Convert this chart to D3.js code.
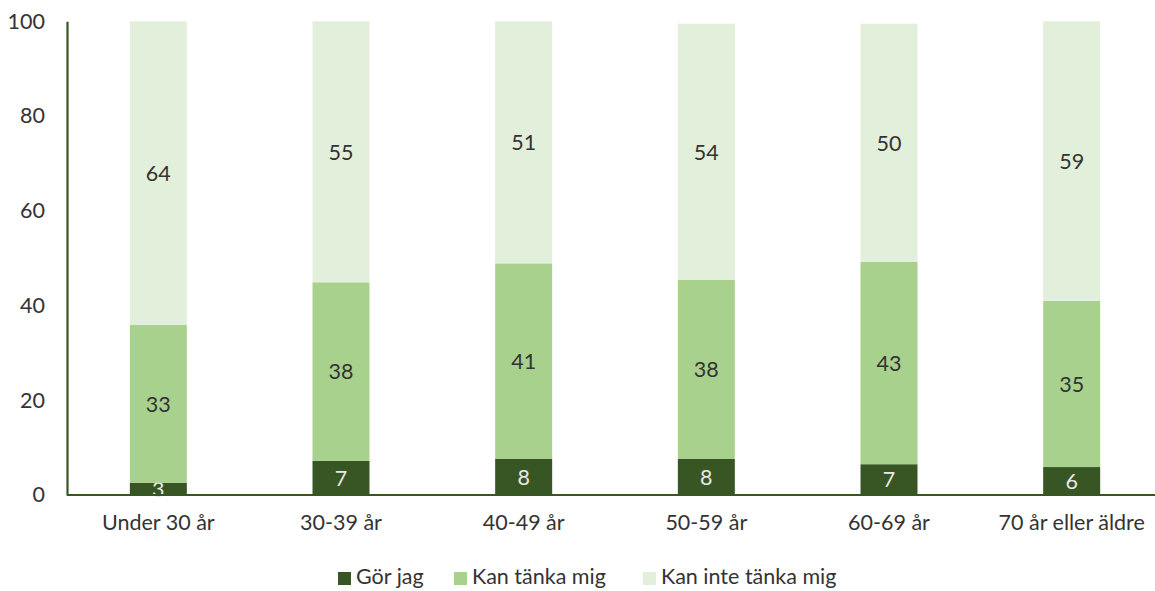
<!DOCTYPE html>
<html><head><meta charset="utf-8">
<script src="https://cdn.jsdelivr.net/npm/d3@7"></script>
<style>body{margin:0;background:#fff}svg{display:block}text{font-family:Lato,"Open Sans",sans-serif}</style>
</head><body><svg id="c" width="1155" height="591"></svg>
<script>
const categories = ["Under 30 år","30-39 år","40-49 år","50-59 år","60-69 år","70 år eller äldre"];
const seriesNames = ["Gör jag","Kan tänka mig","Kan inte tänka mig"];
const gorJag = [2.6, 7.2, 7.6, 7.6, 6.5, 5.9];
const kanTanka = [33.3, 37.7, 41.3, 37.8, 42.7, 35.1];
const kanInte = [64.1, 55.1, 51.1, 54.1, 50.3, 59.0];
const yTicks = [0,20,40,60,80,100];
const colors = ["#375623","#a9d18e","#e2efda"];
const labelColors = ["#e8e8e8","#333333","#333333"];

const svg = d3.select("#c");
const x = d3.scaleBand().domain(categories).range([67,1163]).paddingInner(0.688).paddingOuter(0.344);
const y = d3.scaleLinear().domain([0,100]).range([495,21.3]);

const rows = categories.map((c,i)=>({cat:c, s0:gorJag[i], s1:kanTanka[i], s2:kanInte[i]}));
const stack = d3.stack().keys(["s0","s1","s2"])(rows);

stack.forEach((layer,li)=>{
  const g = svg.append("g");
  g.selectAll("rect").data(layer).join("rect")
    .attr("x", d=>x(d.data.cat)).attr("width", x.bandwidth())
    .attr("y", d=>y(d[1])).attr("height", d=>y(d[0])-y(d[1]))
    .attr("fill", colors[li]);
  g.selectAll("text").data(layer).join("text")
    .attr("x", d=>x(d.data.cat)+x.bandwidth()/2)
    .attr("y", d=>(y(d[0])+y(d[1]))/2)
    .attr("dy","0.36em").attr("text-anchor","middle")
    .attr("font-size",21.5).attr("fill",labelColors[li])
    .text(d=>Math.round(d[1]-d[0]));
});

// axes
const ya = svg.append("g").attr("transform","translate(67,0)")
  .call(d3.axisLeft(y).tickValues(yTicks).tickSize(0).tickPadding(22));
ya.select(".domain").attr("stroke","#375623").attr("stroke-width",2.2);
ya.selectAll("text").attr("font-size",21.5).attr("fill","#333").style("font-family","Lato");

const xa = svg.append("g").attr("transform","translate(0,495)")
  .call(d3.axisBottom(x).tickSize(0).tickPadding(20));
xa.select(".domain").attr("stroke","#375623").attr("stroke-width",2.2).attr("d","M67,0H1155");
xa.selectAll("text").attr("font-size",21.5).attr("fill","#333").style("font-family","Lato");

// legend
const legX = [338,454,643];
const lg = svg.append("g");
seriesNames.forEach((n,i)=>{
  lg.append("rect").attr("x",legX[i]).attr("y",572).attr("width",13).attr("height",13).attr("fill",colors[i]);
  lg.append("text").attr("x",legX[i]+18).attr("y",576).attr("dy","0.36em").attr("font-size",21.5).attr("fill","#333").text(n);
});
</script></body></html>
